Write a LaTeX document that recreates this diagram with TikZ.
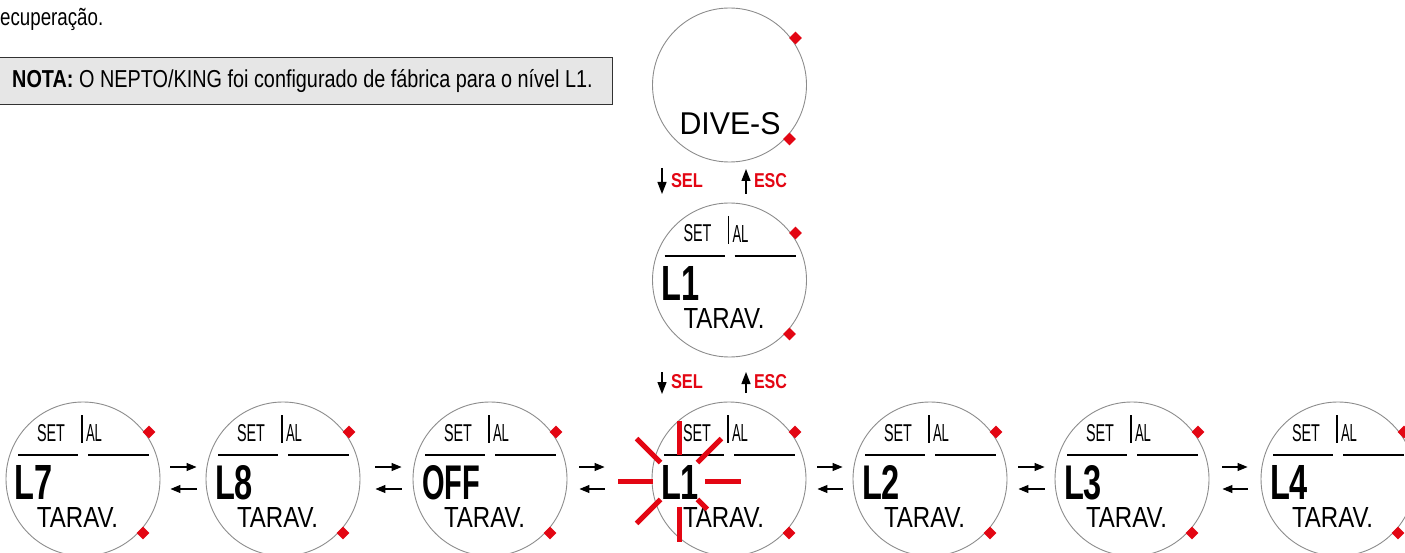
\documentclass[tikz,border=0pt]{standalone}
\usepackage{fontspec}
\setmainfont{Liberation Sans}[FakeStretch=0.78]
\newfontfamily\notefont{Liberation Sans}[FakeStretch=0.81]
\newfontfamily\lcdfont{Liberation Sans}
\usetikzlibrary{arrows.meta,calc}
\definecolor{btnred}{RGB}{227,6,19}
\definecolor{ringgray}{RGB}{140,140,140}
\definecolor{notefill}{RGB}{230,230,230}
\definecolor{noteedge}{RGB}{50,50,50}
\tikzset{
  ring/.style={circle, draw=ringgray, line width=0.9pt, minimum size=154pt, inner sep=0pt},
  knob/.style={rectangle, fill=btnred, minimum size=9pt, inner sep=0pt, rotate=45},
  lcd/.style={inner sep=0pt, outer sep=0pt, font=\lcdfont},
  segline/.style={line width=1.4pt},
  nav/.style={-{Triangle[length=10pt,width=8pt]}, line width=1.1pt},
  vkey/.style={-{Triangle[length=12pt,width=9pt]}, line width=1.3pt},
  keylab/.style={inner sep=0pt, outer sep=0pt, text=btnred, font=\lcdfont\bfseries, anchor=west},
  burst/.style={draw=btnred, line width=5pt},
  pics/watch/.style 2 args={code={
    \node[ring] (-c) at (0,0) {};
    \node[knob] (-k1) at (66,-47) {};
    \node[knob] (-k2) at (60,54) {};
    \node[lcd, anchor=north west] (-set) at (-46,-55) {\resizebox{28pt}{17pt}{SET}};
    \node[lcd, anchor=north west] (-al) at (3,-55) {\resizebox{16pt}{17pt}{AL}};
    \draw[line width=1.2pt] (-1,-64) -- (-1,-36);
    \draw[segline] (-65,-24) -- (-5,-24);
    \draw[segline] (5,-24) -- (66,-24);
    \node[lcd, anchor=north west, font=\lcdfont\bfseries] (-big) at (-68,-14) {\resizebox{#2}{34pt}{#1}};
    \node[lcd, anchor=north west] (-tar) at (-46,28) {\resizebox{81pt}{20pt}{TARAV.}};
  }}
}
\begin{document}
\begin{tikzpicture}[x=1pt,y=-1pt]
\useasboundingbox (0,0) rectangle (1405,553);
\clip (0,0) rectangle (1405,553);

% text and note
\node[anchor=base west, inner sep=0pt, font=\fontsize{24}{28}\selectfont] (rec) at (0,26) {ecuperação.};
\node[rectangle, draw=noteedge, fill=notefill, line width=1.2pt, minimum width=614pt, minimum height=47pt, inner sep=0pt, anchor=north west] (nbox) at (-2,57) {};
\node[anchor=base west, inner sep=0pt, font=\notefont\fontsize{24.5}{28}\selectfont] (ntext) at (12,88) {\textbf{NOTA:} O NEPTO/KING foi configurado de fábrica para o nível L1.};

% top watch
\node[ring] (dive) at (729.5,85) {};
\node[knob] (divek1) at ($(dive)+(66,-47)$) {};
\node[knob] (divek2) at ($(dive)+(60,54)$) {};
\node[lcd, anchor=north west] (divetxt) at ($(dive)+(-50,28)$) {\resizebox{101pt}{22pt}{DIVE-S}};

% key labels row 1
\node[keylab] (sel1) at (671,181) {\resizebox{32pt}{14pt}{SEL}};
\node[keylab] (esc1) at (754,181) {\resizebox{33pt}{14pt}{ESC}};
\draw[vkey] ($(sel1.west)+(-9,-13)$) -- ($(sel1.west)+(-9,13)$);
\draw[vkey] ($(esc1.west)+(-8,13)$) -- ($(esc1.west)+(-8,-12)$);

% second watch
\pic (ws) at (729.5,280) {watch={L1}{38pt}};

% key labels row 2
\node[keylab] (sel2) at (671,382) {\resizebox{32pt}{14pt}{SEL}};
\node[keylab] (esc2) at (754,382) {\resizebox{33pt}{14pt}{ESC}};
\draw[vkey] ($(sel2.west)+(-9,-10)$) -- ($(sel2.west)+(-9,12)$);
\draw[vkey] ($(esc2.west)+(-8,11)$) -- ($(esc2.west)+(-8,-10)$);

% bottom row
\pic (w7) at (83,479) {watch={L7}{38pt}};
\pic (w8) at (283,479) {watch={L8}{38pt}};
\pic (woff) at (490,479) {watch={OFF}{58pt}};
\pic (wl1) at (729,479) {watch={L1}{38pt}};
\pic (wl2) at (930,479) {watch={L2}{38pt}};
\pic (wl3) at (1132,479) {watch={L3}{38pt}};
\pic (wl4) at (1338,479) {watch={L4}{38pt}};

% navigation arrows
\draw[nav] ($(w7-c.east)+(10,-12)$) -- ($(w8-c.west)+(-9,-12)$);
\draw[nav] ($(w8-c.west)+(-9,10)$) -- ($(w7-c.east)+(10,10)$);
\draw[nav] ($(w8-c.east)+(15,-12)$) -- ($(woff-c.west)+(-11,-12)$);
\draw[nav] ($(woff-c.west)+(-11,10)$) -- ($(w8-c.east)+(15,10)$);
\draw[nav] ($(woff-c.east)+(12,-12)$) -- ($(wl1-c.west)+(-47,-12)$);
\draw[nav] ($(wl1-c.west)+(-47,10)$) -- ($(woff-c.east)+(12,10)$);
\draw[nav] ($(wl1-c.east)+(11,-12)$) -- ($(wl2-c.west)+(-10,-12)$);
\draw[nav] ($(wl2-c.west)+(-10,10)$) -- ($(wl1-c.east)+(11,10)$);
\draw[nav] ($(wl2-c.east)+(11,-12)$) -- ($(wl3-c.west)+(-10,-12)$);
\draw[nav] ($(wl3-c.west)+(-10,10)$) -- ($(wl2-c.east)+(11,10)$);
\draw[nav] ($(wl3-c.east)+(13,-12)$) -- ($(wl4-c.west)+(-13,-12)$);
\draw[nav] ($(wl4-c.west)+(-13,10)$) -- ($(wl3-c.east)+(13,10)$);

% blinking burst
\coordinate (bc) at ($(wl1-c)+(-50,2)$);
\foreach \a/\r in {0/62,45/40,90/61,135/60,180/61,225/60,270/60,315/60}
  \draw[burst] ($(bc)+(\a:26)$) -- ($(bc)+(\a:\r)$);
\end{tikzpicture}
\end{document}
